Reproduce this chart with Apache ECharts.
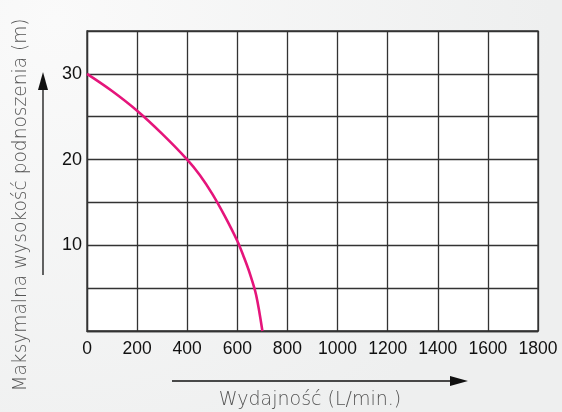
<!DOCTYPE html>
<html><head><meta charset="utf-8">
<script src="https://cdn.jsdelivr.net/npm/echarts@6/dist/echarts.min.js"></script>
<style>html,body{margin:0;padding:0;background:#f1f2f2;}#c{width:562px;height:412px;}</style>
</head><body><div id="c"></div>
<script>
const flowValues = [0, 100, 200, 300, 400, 450, 500, 550, 600, 625, 650, 675, 700];
const headValues = [30, 28, 25.7, 23.0, 20, 18.2, 16.0, 13.4, 10.5, 8.7, 6.7, 4.2, 0];
const yLabelsShown = [10, 20, 30];
const xTitle = 'Wydajność (L/min.)';
const yTitle = 'Maksymalna wysokość podnoszenia (m)';

const data = flowValues.map((x, i) => [x, headValues[i]]);
const chart = echarts.init(document.getElementById('c'));
chart.setOption({
  backgroundColor: {type:'radial', x:0.1, y:0.05, r:1.2, colorStops:[{offset:0,color:'#fafafa'},{offset:1,color:'#eeefef'}]},
  animation: false,
  grid: {left: 87, right: 24, top: 31, bottom: 81, show: true, backgroundColor: '#ffffff', borderColor: '#333', borderWidth: 1.3},
  xAxis: {
    type: 'value', min: 0, max: 1800, interval: 200,
    axisLine: {show: true, lineStyle: {color: '#333', width: 1.3}},
    axisTick: {show: false},
    splitLine: {show: true, lineStyle: {color: '#333', width: 1.3}},
    axisLabel: {color: '#111', fontSize: 17.5, fontFamily: 'Liberation Sans', margin: 9, showMaxLabel: true, showMinLabel: true,
      formatter: v => String(v)}
  },
  yAxis: {
    type: 'value', min: 0, max: 35, interval: 5,
    axisLine: {show: true, lineStyle: {color: '#333', width: 1.3}},
    axisTick: {show: false},
    splitLine: {show: true, lineStyle: {color: '#333', width: 1.3}},
    axisLabel: {color: '#111', fontSize: 18, fontFamily: 'Liberation Sans', margin: 5,
      formatter: v => yLabelsShown.includes(v) ? String(v) : ''}
  },
  series: [{
    type: 'line', data: data, smooth: 0.35, symbol: 'none',
    lineStyle: {color: '#e5157b', width: 2.6}
  }],
  graphic: [
    {type: 'text', x: 310, y: 400,
     style: {text: xTitle, fill: '#555', fontSize: 19, fontFamily: 'DejaVu Sans', fontWeight: 200, align: 'center', verticalAlign: 'middle'}},
    {type: 'text', x: 21, y: 205, rotation: Math.PI/2,
     style: {text: yTitle, fill: '#555', fontSize: 18.6, fontFamily: 'DejaVu Sans', fontWeight: 200, align: 'center', verticalAlign: 'middle'}},
    {type: 'line', shape: {x1: 43, y1: 84, x2: 43, y2: 275}, style: {stroke: '#111', lineWidth: 1.3}},
    {type: 'polygon', shape: {points: [[43, 72], [38, 90], [48, 90]]}, style: {fill: '#111'}},
    {type: 'line', shape: {x1: 172, y1: 381, x2: 456, y2: 381}, style: {stroke: '#111', lineWidth: 1.3}},
    {type: 'polygon', shape: {points: [[468, 381], [450, 376], [450, 386]]}, style: {fill: '#111'}}
  ]
});
</script></body></html>
